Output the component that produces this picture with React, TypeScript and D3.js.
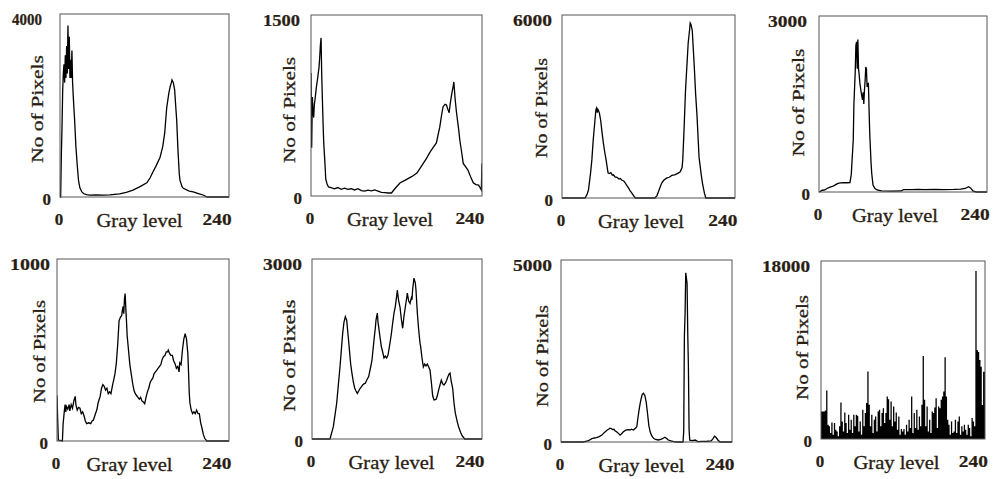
import React from "react";
import * as d3 from "d3";

// ---------- data (gray level, pixel count) ----------
const hist1: [number, number][] = [
  [0, 0], [1, 0], [2, 900], [3, 1500], [4, 2300], [5, 2700], [6, 2900], [7, 2500], [8, 3100], [9, 2600],
  [10, 3300], [11, 2700], [12, 3750], [13, 2800], [14, 3500], [15, 2600], [16, 3000], [17, 2600], [18, 3200],
  [19, 2500], [20, 2200], [22, 1700], [24, 1100], [26, 700], [28, 350], [30, 200], [33, 110], [36, 70], [40, 50],
  [45, 40], [55, 45], [65, 40], [75, 45], [90, 70], [100, 100], [110, 150], [120, 220], [131, 310], [136, 420],
  [140, 540], [145, 680], [151, 870], [155, 1100], [158, 1400], [161, 1950], [164, 2250], [166, 2400], [168, 2500],
  [169, 2560], [171, 2500], [173, 2340], [175, 1900], [176, 1700], [178, 1030], [180, 500], [181, 370], [184, 230],
  [186, 190], [195, 130], [201, 110], [210, 70], [216, 44], [222, 0], [255, 0],
];

const hist2: [number, number][] = [
  [0, 1020], [1, 400], [2, 820], [3, 700], [4, 650], [5, 760], [6, 800], [7, 850], [8, 900], [10, 980], [12, 1070],
  [13, 1150], [14, 1250], [15, 1310], [16, 1000], [17, 800], [18, 600], [19, 440], [21, 250], [22, 140], [24, 100],
  [26, 75], [30, 70], [35, 60], [40, 70], [45, 55], [50, 65], [55, 55], [60, 60], [65, 50], [70, 60], [75, 45],
  [80, 40], [85, 48], [90, 42], [95, 50], [100, 40], [105, 30], [110, 28], [115, 25], [120, 25], [125, 60],
  [133, 110], [140, 130], [150, 160], [158, 190], [165, 250], [172, 310], [177, 360], [182, 400], [187, 440],
  [190, 520], [192, 570], [195, 680], [197, 740], [200, 760], [202, 754], [204, 720], [206, 690], [208, 780],
  [210, 850], [212, 910], [213, 945], [215, 800], [217, 690], [220, 560], [222, 460], [225, 350], [227, 270],
  [231, 240], [234, 215], [238, 160], [242, 110], [246, 95], [250, 90], [254, 50], [255, 270],
];

const hist3: [number, number][] = [
  [0, 0], [34, 0], [37, 120], [39, 260], [42, 800], [44, 1250], [46, 1900], [48, 2400], [50, 2900], [51, 2950],
  [52, 2800], [53, 2900], [55, 2800], [57, 2550], [59, 2150], [61, 1800], [63, 1500], [65, 1250], [67, 950],
  [68, 820], [70, 800], [72, 830], [74, 750], [76, 760], [78, 690], [81, 680], [84, 620], [86, 640], [88, 590],
  [91, 560], [93, 500], [95, 430], [98, 330], [100, 250], [103, 160], [106, 60], [108, 0], [137, 0], [140, 80],
  [142, 200], [145, 380], [147, 490], [150, 580], [154, 650], [158, 680], [162, 740], [166, 760], [170, 800],
  [174, 850], [177, 1000], [178, 1250], [180, 2300], [182, 3500], [184, 4300], [186, 5080], [188, 5500],
  [189, 5740], [190, 5700], [192, 5500], [193, 5100], [195, 4300], [197, 3400], [199, 2700], [201, 1800],
  [202, 1340], [205, 800], [207, 490], [210, 150], [212, 0], [255, 0],
];

const hist4: [number, number][] = [
  [0, 0], [2, 10], [5, 30], [9, 35], [12, 60], [16, 80], [19, 90], [23, 110], [26, 130], [29, 148], [33, 155],
  [37, 160], [42, 158], [47, 160], [49, 300], [50, 500], [52, 890], [53, 1500], [55, 2050], [56, 2500], [57, 2560],
  [58, 2100], [59, 2600], [60, 2100], [61, 2000], [62, 1860], [64, 1700], [66, 1570], [67, 1700], [68, 1500],
  [69, 1740], [70, 1900], [71, 2130], [72, 2100], [73, 1790], [75, 1860], [76, 1400], [77, 1000], [79, 500],
  [80, 320], [82, 120], [85, 60], [88, 35], [95, 20], [110, 15], [125, 18], [128, 40], [140, 42], [150, 45],
  [160, 40], [175, 45], [190, 42], [205, 45], [215, 50], [222, 60], [227, 90], [230, 70], [234, 16], [239, 0],
  [255, 0],
];

const hist5: [number, number][] = [
  [0, 250], [1, 120], [2, 5], [8, 0], [9, 90], [11, 170], [12, 200], [13, 160], [14, 190], [16, 175], [18, 200],
  [19, 165], [21, 200], [23, 180], [25, 220], [27, 245], [28, 200], [30, 170], [32, 185], [34, 180], [36, 150],
  [38, 160], [40, 140], [42, 110], [44, 95], [47, 100], [50, 95], [52, 110], [54, 115], [57, 150], [59, 170],
  [61, 210], [64, 245], [66, 290], [68, 310], [70, 300], [72, 280], [74, 290], [76, 260], [78, 270], [80, 260],
  [82, 300], [84, 335], [86, 370], [88, 430], [90, 530], [92, 660], [94, 680], [96, 690], [97, 720], [98, 740],
  [99, 700], [100, 780], [101, 810], [102, 730], [103, 660], [104, 580], [106, 500], [108, 420], [110, 370],
  [112, 320], [114, 280], [116, 260], [118, 250], [120, 240], [122, 230], [124, 240], [126, 220], [128, 215],
  [130, 205], [132, 240], [134, 270], [136, 290], [138, 320], [140, 335], [142, 345], [144, 370], [146, 380],
  [148, 390], [150, 400], [152, 410], [154, 420], [156, 450], [158, 465], [160, 470], [162, 490], [164, 490],
  [165, 500], [167, 480], [169, 470], [171, 470], [173, 440], [175, 425], [177, 400], [179, 410], [181, 380],
  [182, 430], [184, 420], [186, 500], [188, 560], [190, 590], [192, 560], [194, 480], [195, 380], [196, 270],
  [197, 210], [199, 170], [201, 150], [203, 160], [205, 150], [207, 170], [209, 150], [211, 150], [213, 100],
  [215, 70], [217, 35], [219, 15], [222, 0], [255, 0],
];

const hist6: [number, number][] = [
  [0, 0], [27, 0], [32, 205], [37, 595], [42, 1205], [46, 1760], [48, 1950], [50, 2040], [52, 1980], [54, 1750],
  [56, 1500], [58, 1250], [60, 1090], [62, 950], [64, 850], [66, 800], [68, 760], [70, 800], [72, 840], [74, 870],
  [76, 900], [78, 920], [80, 930], [82, 980], [85, 1040], [88, 1200], [90, 1320], [93, 1650], [95, 1850],
  [96, 1980], [98, 2100], [99, 1950], [100, 1870], [102, 1700], [104, 1540], [106, 1450], [108, 1350], [110, 1380],
  [112, 1350], [114, 1400], [117, 1600], [119, 1750], [121, 1930], [123, 2100], [125, 2210], [127, 2380],
  [128, 2480], [130, 2300], [132, 2200], [134, 2000], [136, 1845], [138, 2050], [140, 2200], [142, 2350],
  [143, 2430], [145, 2300], [147, 2260], [149, 2350], [150, 2320], [151, 2500], [153, 2680], [155, 2600],
  [156, 2480], [158, 2100], [160, 1820], [162, 1600], [163, 1540], [165, 1350], [167, 1200], [169, 1250],
  [171, 1220], [173, 1250], [175, 1200], [177, 1150], [179, 950], [181, 720], [183, 650], [186, 660], [188, 720],
  [190, 820], [192, 900], [194, 980], [196, 920], [198, 900], [200, 930], [202, 980], [204, 1040], [206, 1090],
  [207, 1100], [209, 950], [211, 850], [213, 600], [215, 430], [218, 280], [220, 200], [223, 110], [225, 60],
  [229, 0], [255, 0],
];

const hist7: [number, number][] = [
  [0, 0], [33, 0], [37, 20], [41, 40], [44, 70], [46, 90], [50, 110], [53, 120], [57, 150], [61, 190], [64, 250],
  [66, 280], [69, 330], [71, 350], [73, 380], [75, 370], [77, 340], [79, 350], [81, 300], [83, 280], [86, 230],
  [88, 190], [90, 220], [93, 280], [96, 320], [98, 330], [100, 340], [103, 330], [105, 350], [108, 330], [111, 380],
  [113, 420], [115, 700], [117, 950], [119, 1150], [121, 1300], [123, 1340], [125, 1280], [127, 1100], [129, 790],
  [131, 450], [133, 280], [135, 180], [138, 100], [141, 70], [145, 55], [150, 80], [153, 110], [155, 130], [158, 90],
  [160, 55], [164, 30], [168, 10], [172, 0], [182, 0], [183, 300], [184, 2900], [185, 3500], [186, 4650],
  [187, 4500], [188, 4350], [189, 3000], [190, 2070], [191, 330], [192, 50], [196, 40], [200, 55], [204, 10],
  [210, 15], [218, 20], [224, 30], [227, 100], [229, 160], [231, 130], [234, 55], [237, 0], [255, 0],
];

// panel 8: counts per 2-gray-level bin (bin i starts at gray level 2*i)
const bins8: number[] = [
  2790, 2790, 2790, 2890, 4900, 1440, 1280, 600, 1680, 440,
  1610, 940, 770, 270, 1280, 3690, 1780, 770, 2690, 1610,
  600, 2450, 940, 1950, 600, 2450, 1280, 2450, 2350, 770,
  1780, 440, 2950, 1280, 2620, 3630, 6820, 3460, 1280, 2450,
  600, 1950, 2280, 770, 2790, 2950, 1280, 2620, 3120, 1610,
  2620, 4300, 4030, 1950, 3790, 1280, 3290, 1780, 2690, 940,
  2280, 440, 1010, 770, 1010, 440, 1440, 770, 1950, 1110,
  4300, 600, 2620, 1110, 2950, 940, 2280, 1280, 3460, 8400,
  3960, 1280, 3290, 770, 1950, 600, 2790, 2620, 3190, 4130,
  1110, 3290, 3120, 3960, 4300, 4800, 8260, 4300, 1950, 1440,
  440, 1780, 600, 770, 1950, 600, 1780, 2280, 440, 1280,
  770, 1440, 940, 440, 1440, 1110, 270, 2120, 1780, 1280,
  17000, 9000, 8800, 8000, 7300, 3440, 6800, 6800,
];

const lineSeries = [hist1, hist2, hist3, hist4, hist5, hist6, hist7];
const yMaxValues = [4000, 1500, 6000, 3000, 1000, 3000, 5000, 18000];
const xTickValues = [0, 240];
const xTitle = "Gray level";
const yTitle = "No of Pixels";

// ---------- layout ----------
type Layout = {
  box: [number, number, number, number];
  gap: number;
  numLen: number;
  title: [number, number, number];
  grayX: number;
};
const layout: Layout[] = [
  { box: [60, 14, 229, 197], gap: 18, numLen: 30, title: [43, 109, 108], grayX: 139.5 },
  { box: [311, 15, 482, 196], gap: 11, numLen: 37, title: [295, 110, 106], grayX: 390 },
  { box: [562, 15, 735, 198], gap: 10, numLen: 39, title: [547, 108, 100], grayX: 641 },
  { box: [819, 16, 987, 192], gap: 12, numLen: 39, title: [804, 102.5, 108], grayX: 895 },
  { box: [57, 259, 229, 441], gap: 7, numLen: 40, title: [45, 351.5, 103], grayX: 129.5 },
  { box: [312, 259, 482, 439], gap: 10, numLen: 39, title: [295, 355.5, 112], grayX: 391.5 },
  { box: [561, 260, 732, 442], gap: 9, numLen: 39, title: [548, 356, 102], grayX: 641.5 },
  { box: [821, 261, 985, 439], gap: 11, numLen: 48, title: [808, 347.5, 105], grayX: 896.5 },
];

const TEXT = "#2a1e14";
const FONT = "'Liberation Serif', 'Times New Roman', serif";

function Panel({ idx }: { idx: number }) {
  const L = layout[idx];
  const [x0, y0, x1, y1] = L.box;
  const x = d3.scaleLinear().domain([0, 255]).range([x0, x1]);
  const y = d3.scaleLinear().domain([0, yMaxValues[idx]]).range([y1, y0]);
  const clipId = `clip${idx}`;

  let mark: React.ReactNode;
  if (idx < 7) {
    const line = d3
      .line<[number, number]>()
      .x((d) => x(d[0]))
      .y((d) => y(d[1]));
    mark = (
      <path d={line(lineSeries[idx]) || ""} fill="none" stroke="#000" strokeWidth={1.3} strokeLinejoin="miter" />
    );
  } else {
    const pts = [...bins8, bins8[bins8.length - 1]];
    const area = d3
      .area<number>()
      .curve(d3.curveStepAfter)
      .x((_, i) => x(i * 2))
      .y0(y(0))
      .y1((d) => y(d));
    mark = <path d={area(pts) || ""} fill="#000" stroke="none" />;
  }

  const regular = { fontFamily: FONT, fill: TEXT, stroke: TEXT, strokeWidth: 0.3 };
  const bold = { fontFamily: FONT, fontWeight: "bold" as const, fontSize: 16, fill: TEXT, stroke: TEXT, strokeWidth: 0.2 };

  return (
    <g>
      <defs>
        <clipPath id={clipId}>
          <rect x={x0} y={y0 - 2} width={x1 - x0} height={y1 - y0 + 3} />
        </clipPath>
      </defs>
      <g clipPath={`url(#${clipId})`}>{mark}</g>
      <rect x={x0} y={y0} width={x1 - x0} height={y1 - y0} fill="none" stroke="#555" strokeWidth={1} />
      {/* y tick labels */}
      <text
        x={x0 - L.gap}
        y={y(yMaxValues[idx]) + 11}
        textAnchor="end"
        {...bold}
        textLength={L.numLen}
        lengthAdjust="spacingAndGlyphs"
      >
        {String(yMaxValues[idx])}
      </text>
      <text x={x0 - 9} y={y(0) + 8} textAnchor="end" {...bold} textLength={8.5} lengthAdjust="spacingAndGlyphs">
        0
      </text>
      {/* x tick labels */}
      {xTickValues.map((t) => (
        <text
          key={t}
          x={x(t) + (t === 0 ? -1 : -2)}
          y={y1 + 28}
          textAnchor="middle"
          {...bold}
          textLength={t === 0 ? 8.5 : 29}
          lengthAdjust="spacingAndGlyphs"
        >
          {String(t)}
        </text>
      ))}
      {/* axis titles */}
      <text
        x={L.grayX}
        y={y1 + 29.5}
        textAnchor="middle"
        {...regular}
        fontSize={18}
        textLength={86}
        lengthAdjust="spacingAndGlyphs"
      >
        {xTitle}
      </text>
      <text
        transform={`translate(${L.title[0]},${L.title[1]}) rotate(-90)`}
        textAnchor="middle"
        {...regular}
        fontSize={17.5}
        textLength={L.title[2]}
        lengthAdjust="spacingAndGlyphs"
      >
        {yTitle}
      </text>
    </g>
  );
}

export default function App() {
  return (
    <svg
      width={993}
      height={479}
      viewBox="0 0 993 479"
      style={{ position: "absolute", left: 0, top: 0, background: "#fff" }}
    >
      <rect x={0} y={0} width={993} height={479} fill="#fff" />
      {layout.map((_, i) => (
        <Panel key={i} idx={i} />
      ))}
    </svg>
  );
}
